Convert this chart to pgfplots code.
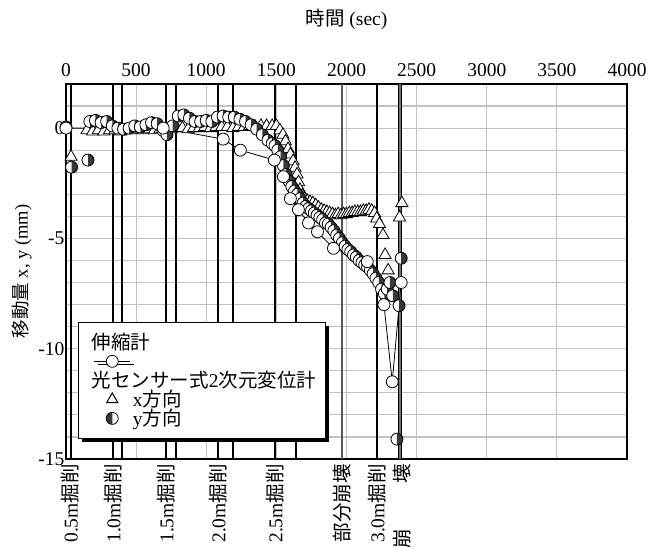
\documentclass[border=0pt]{standalone}
\usepackage{pgfplots}
\pgfplotsset{compat=1.18}
\usetikzlibrary{shadows}
\usepackage{fontspec}
\setmainfont{Liberation Serif}
\newfontfamily\jp{Noto Sans CJK JP}
\definecolor{darkhalf}{gray}{0.22}
\definecolor{gridgray}{gray}{0.76}
\newcommand{\fs}{\fontsize{19.5}{22}\selectfont}
\newcommand{\fsl}{\fontsize{18.5}{21}\selectfont}

\pgfdeclareplotmark{halfright}{%
  \pgfpathcircle{\pgfpointorigin}{\pgfplotmarksize}%
  \pgfsetfillcolor{white}%
  \pgfusepathqfill
  \pgfpathmoveto{\pgfqpoint{0pt}{\pgfplotmarksize}}%
  \pgfpatharc{90}{-90}{\pgfplotmarksize}%
  \pgfpathclose
  \pgfsetfillcolor{darkhalf}%
  \pgfusepathqfill
  \pgfpathcircle{\pgfpointorigin}{\pgfplotmarksize}%
  \pgfusepathqstroke
}
\pgfdeclareplotmark{halfleft}{%
  \pgfpathcircle{\pgfpointorigin}{\pgfplotmarksize}%
  \pgfsetfillcolor{white}%
  \pgfusepathqfill
  \pgfpathmoveto{\pgfqpoint{0pt}{\pgfplotmarksize}}%
  \pgfpatharc{90}{270}{\pgfplotmarksize}%
  \pgfpathclose
  \pgfsetfillcolor{darkhalf}%
  \pgfusepathqfill
  \pgfpathcircle{\pgfpointorigin}{\pgfplotmarksize}%
  \pgfusepathqstroke
}

\pgfplotsset{
  legline/.style={legend image code/.code={\path (0pt,0pt) (44pt,0pt);\draw[mark repeat=2,mark phase=2,##1] plot coordinates {(8pt,0pt) (26pt,0pt) (44pt,0pt)};}},
  legmark/.style={legend image code/.code={\path (0pt,0pt) (44pt,0pt);\draw[##1] plot coordinates {(26pt,0pt)};}},
}

\pgfplotstableread{
t y
0 0
693 0
1121 -0.5
1243 -1.0
1486 -1.45
1550 -2.2
1600 -3.2
1657 -3.7
1729 -4.3
1793 -4.7
1907 -5.45
2148 -6.05
2267 -8.0
2326 -11.5
2390 -7.0
}\ext

\pgfplotstableread{
t y
36 -1.3
150 -0.1
190 -0.15
230 -0.1
270 -0.15
310 -0.1
350 -0.1
390 -0.15
430 -0.1
470 -0.1
510 -0.05
550 -0.1
590 -0.05
630 -0.1
670 -0.05
710 -0.1
750 -0.05
790 0.0
830 0.0
870 -0.05
910 0.0
950 0.0
990 0.05
1030 0.0
1070 0.05
1110 0.05
1150 0.05
1190 0.0
1230 0.05
1270 0.05
1310 0.1
1350 0.05
1390 0.1
1430 0.1
1470 0.1
1500 0.1
1525 -0.1
1547 -0.3
1565 -0.6
1583 -0.95
1600 -1.2
1619 -1.5
1633 -1.8
1647 -2.1
1658 -2.45
1668 -2.8
1685 -3.05
1700 -3.2
1720 -3.3
1740 -3.35
1760 -3.4
1780 -3.5
1800 -3.6
1820 -3.7
1840 -3.75
1860 -3.8
1880 -3.85
1900 -3.9
1920 -3.95
1940 -3.9
1960 -3.95
1980 -3.9
2000 -3.9
2020 -3.85
2040 -3.85
2060 -3.8
2080 -3.8
2100 -3.8
2120 -3.75
2140 -3.75
2160 -3.7
2180 -3.75
2200 -3.85
2215 -4.1
2235 -4.35
2260 -4.85
2275 -5.75
2297 -6.45
2378 -4.05
2395 -3.4
}\xdir

\pgfplotstableread{
t y
0 0.05
40 -1.77
157 -1.45
170 0.3
210 0.35
250 0.25
290 0.3
330 0.1
370 0.0
410 -0.05
450 0.0
490 0.1
530 0.05
570 0.15
610 0.25
650 0.2
690 -0.1
720 -0.3
760 0.1
800 0.55
840 0.6
880 0.45
920 0.3
960 0.3
1000 0.35
1040 0.3
1080 0.5
1120 0.55
1160 0.5
1200 0.5
1240 0.4
1280 0.3
1320 0.15
1360 -0.05
1400 -0.3
1440 -0.55
1470 -0.7
1490 -0.8
1510 -1.0
1530 -1.3
1550 -1.7
1570 -2.1
1590 -2.4
1610 -2.65
1630 -2.85
1650 -3.0
1670 -3.2
1690 -3.4
1710 -3.55
1730 -3.65
1750 -3.75
1770 -3.85
1790 -3.95
1810 -4.05
1830 -4.15
1850 -4.3
1870 -4.35
1890 -4.5
1910 -4.65
1930 -4.85
1950 -5.0
1970 -5.2
1990 -5.35
2010 -5.5
2030 -5.6
2050 -5.75
2070 -5.85
2090 -6.0
2110 -6.1
2130 -6.2
2150 -6.3
2170 -6.45
2190 -6.6
2210 -6.8
2230 -7.0
2250 -7.3
2270 -7.5
2290 -7.3
2310 -7.0
2330 -7.6
2360 -14.1
2375 -8.05
2390 -5.9
}\ydir

\begin{document}
\begin{tikzpicture}
\begin{axis}[
  scale only axis, width=561pt, height=375pt,
  xmin=0, xmax=4000, ymin=-15, ymax=2,
  xtick={0,500,...,4000},
  xticklabel pos=right,
  ytick={-15,-10,-5,0},
  minor ytick={-14,...,2},
  xmajorgrids, ymajorgrids, yminorgrids,
  grid style={gridgray, line width=1.2pt},
  minor grid style={gridgray, line width=1.2pt},
  major tick length=0pt, minor tick length=0pt,
  axis line style={line width=1.5pt},
  /pgf/number format/assume math mode=true,
  /pgf/number format/1000 sep={},
  ticklabel style={font=\fs},
  xticklabel style={yshift=4pt},
  yticklabel style={xshift=2pt},
  xlabel={{\jp 時間} (sec)},
  ylabel={{\jp 移動量} x, y (mm)},
  xlabel style={font=\fs, yshift=27pt},
  ylabel style={font=\fsl},
  clip=false,
  legend style={at={(axis cs:86,-8.77)}, anchor=north west,
    draw=black, line width=1.2pt, fill=white,
    drop shadow={shadow xshift=3.5pt, shadow yshift=-3.5pt, fill=black, opacity=1},
    font=\fs, cells={anchor=west}, row sep=-3pt, inner xsep=7pt, inner ysep=9pt},
  evt/.style={black, line width=2.4pt, forget plot},
  evm/.style={black, line width=1.6pt, forget plot},
]
% event lines
\addplot[evm] coordinates {(36,-15) (36,2)};
\addplot[evt] coordinates {(333,-15) (333,2)};
\addplot[evm] coordinates {(400,-15) (400,2)};
\addplot[evt] coordinates {(713,-15) (713,2)};
\addplot[evm] coordinates {(784,-15) (784,2)};
\addplot[evt] coordinates {(1084,-15) (1084,2)};
\addplot[evm] coordinates {(1191,-15) (1191,2)};
\addplot[evt] coordinates {(1490,-15) (1490,2)};
\addplot[evm] coordinates {(1640,-15) (1640,2)};
\addplot[black!65, line width=2pt, forget plot] coordinates {(1966,-15) (1966,2)};
\addplot[evt] coordinates {(2217,-15) (2217,2)};
\addplot[black, line width=3.8pt, forget plot] coordinates {(2380,-15) (2380,2)};
\addplot[black!55, line width=1.6pt, forget plot] coordinates {(2380,-15) (2380,2)};

% data
\addplot[only marks, mark=triangle*, mark size=7pt, mark options={fill=white, draw=black, line width=0.8pt}, forget plot] table[x=t,y=y] {\xdir};
\addplot[only marks, mark=halfright, mark size=6pt, mark options={draw=black, line width=0.8pt}, forget plot] table[x=t,y=y] {\ydir};
\addplot[black, line width=0.8pt, mark=*, mark size=6pt, mark options={fill=white, draw=black, line width=0.8pt}, forget plot] table[x=t,y=y] {\ext};

% legend
\addlegendimage{empty legend}
\addlegendentry{\hspace*{-41pt}{\jp 伸縮計}}
\addlegendimage{black, line width=0.8pt, mark=*, mark size=6pt, mark options={fill=white, draw=black, line width=0.8pt}, legline}
\addlegendentry{\rule{0pt}{17pt}}
\addlegendimage{empty legend}
\addlegendentry{\hspace*{-41pt}{\jp 光センサー式}2{\jp 次元変位計}}
\addlegendimage{only marks, mark=triangle, mark size=6.5pt, mark options={draw=black, line width=1pt}, legmark}
\addlegendentry{x{\jp 方向}}
\addlegendimage{only marks, mark=halfleft, mark size=6pt, mark options={draw=black, line width=0.8pt}, legmark}
\addlegendentry{y{\jp 方向}}

% bottom event labels
\node[rotate=90, anchor=east, font=\fs, inner xsep=5pt, inner ysep=0pt] at (axis cs:30,-15) {0.5m{\jp 掘削}};
\node[rotate=90, anchor=east, font=\fs, inner xsep=5pt, inner ysep=0pt] at (axis cs:335,-15) {1.0m{\jp 掘削}};
\node[rotate=90, anchor=east, font=\fs, inner xsep=5pt, inner ysep=0pt] at (axis cs:713,-15) {1.5m{\jp 掘削}};
\node[rotate=90, anchor=east, font=\fs, inner xsep=5pt, inner ysep=0pt] at (axis cs:1084,-15) {2.0m{\jp 掘削}};
\node[rotate=90, anchor=east, font=\fs, inner xsep=5pt, inner ysep=0pt] at (axis cs:1490,-15) {2.5m{\jp 掘削}};
\node[rotate=90, anchor=east, font=\fs, inner xsep=5pt, inner ysep=0pt] at (axis cs:1968,-15) {{\jp 部分崩壊}};
\node[rotate=90, anchor=east, font=\fs, inner xsep=5pt, inner ysep=0pt] at (axis cs:2217,-15) {3.0m{\jp 掘削}};
\node[rotate=90, anchor=east, font=\fs, inner xsep=5pt, inner ysep=0pt] at (axis cs:2395,-15) {{\jp 崩}\hspace{2.3em}{\jp 壊}};

\coordinate (bbsw) at (rel axis cs:-0.11765,-0.23467);
\coordinate (bbne) at (rel axis cs:1.06061,1.224);
\end{axis}
\pgfresetboundingbox
\useasboundingbox (bbsw) rectangle (bbne);
\end{tikzpicture}
\end{document}
